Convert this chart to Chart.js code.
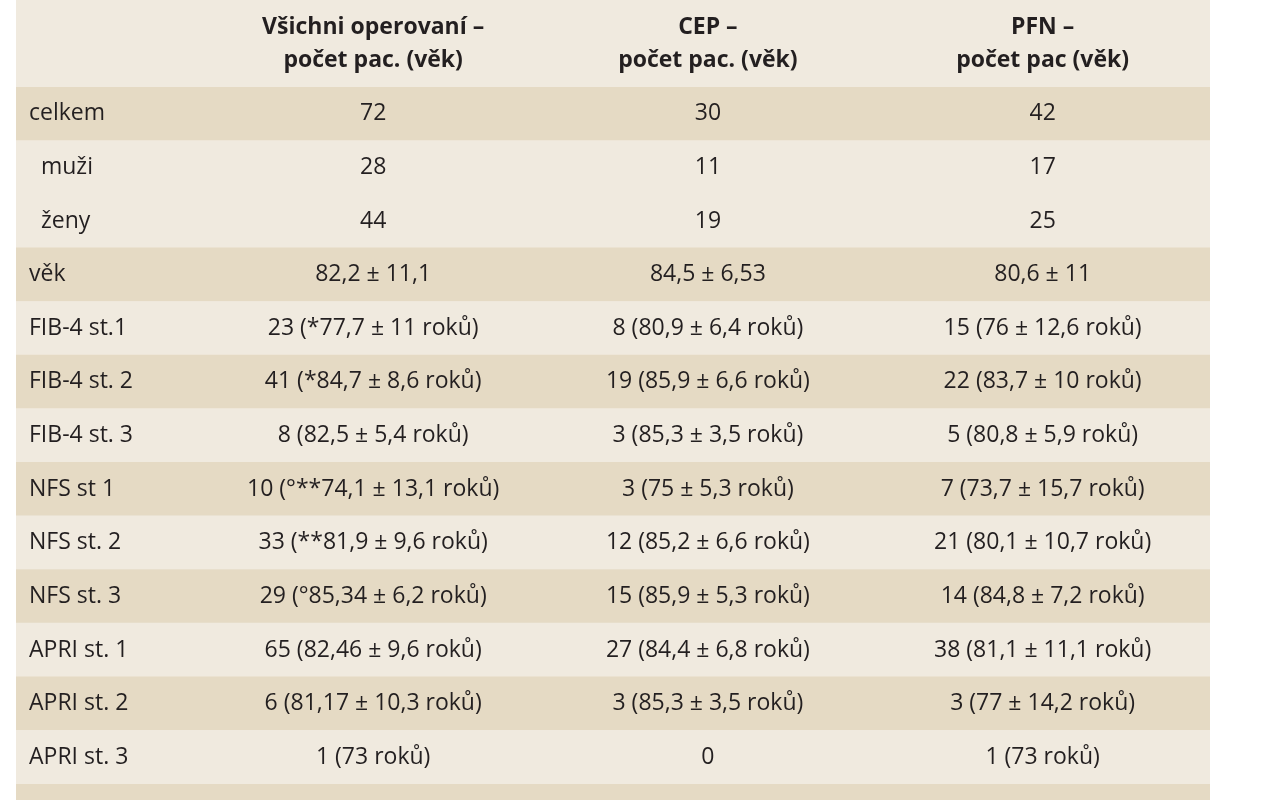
<!DOCTYPE html>
<html><head><meta charset="utf-8">
<script src="https://cdn.jsdelivr.net/npm/chart.js@4/dist/chart.umd.min.js"></script>
<style>html,body{margin:0;padding:0;background:#fff}#w{width:1278px;height:800px}</style>
</head><body><div id="w"><canvas id="c"></canvas></div>
<script>
const headers = [["Všichni operovaní –","počet pac. (věk)"],["CEP –","počet pac. (věk)"],["PFN –","počet pac (věk)"]];
const rowLabels = ["celkem","  muži","  ženy","věk","FIB-4 st.1","FIB-4 st. 2","FIB-4 st. 3","NFS st 1","NFS st. 2","NFS st. 3","APRI st. 1","APRI st. 2","APRI st. 3"];
const colAll = ["72","28","44","82,2 ± 11,1","23 (*77,7 ± 11 roků)","41 (*84,7 ± 8,6 roků)","8 (82,5 ± 5,4 roků)","10 (°**74,1 ± 13,1 roků)","33 (**81,9 ± 9,6 roků)","29 (°85,34 ± 6,2 roků)","65 (82,46 ± 9,6 roků)","6 (81,17 ± 10,3 roků)","1 (73 roků)"];
const colCEP = ["30","11","19","84,5 ± 6,53","8 (80,9 ± 6,4 roků)","19 (85,9 ± 6,6 roků)","3 (85,3 ± 3,5 roků)","3 (75 ± 5,3 roků)","12 (85,2 ± 6,6 roků)","15 (85,9 ± 5,3 roků)","27 (84,4 ± 6,8 roků)","3 (85,3 ± 3,5 roků)","0"];
const colPFN = ["42","17","25","80,6 ± 11","15 (76 ± 12,6 roků)","22 (83,7 ± 10 roků)","5 (80,8 ± 5,9 roků)","7 (73,7 ± 15,7 roků)","21 (80,1 ± 10,7 roků)","14 (84,8 ± 7,2 roků)","38 (81,1 ± 11,1 roků)","3 (77 ± 14,2 roků)","1 (73 roků)"];
const darkRows = [0,3,5,7,9,11];
const DARK="#e5dac4", LIGHT="#f0eadf", TXT="#231f20";
const cols=[colAll,colCEP,colPFN];
const FONT='"Open Sans", "Noto Sans", sans-serif';
const tablePlugin={id:'tbl',
 beforeDatasetsDraw(ch){const {ctx,chartArea:a}=ch;
  ctx.save();ctx.fillStyle=LIGHT;ctx.fillRect(a.left,0,a.right-a.left,a.top);
  ctx.fillStyle=DARK;ctx.fillRect(a.left,a.bottom,a.right-a.left,ch.height-a.bottom);ctx.restore();},
 afterDatasetsDraw(ch){const {ctx,chartArea:a,scales:{x,y}}=ch;
  ctx.save();ctx.fillStyle=TXT;ctx.textBaseline='middle';
  ctx.font='bold 23px '+FONT;ctx.textAlign='center';
  headers.forEach((h,i)=>{const cx=x.getPixelForValue(i+0.5);ctx.fillText(h[0],cx,a.top-60);ctx.fillText(h[1],cx,a.top-27);});
  ctx.font='23px '+FONT;
  rowLabels.forEach((l,r)=>{const cy=y.getPixelForValue(r);
   ctx.textAlign='left';ctx.fillText(l,x.getPixelForValue(x.min)+13,cy);
   ctx.textAlign='center';cols.forEach((c,i)=>ctx.fillText(c[r],x.getPixelForValue(i+0.5),cy));});
  ctx.restore();}};
new Chart(document.getElementById('c'),{type:'bar',
 data:{labels:rowLabels,datasets:[{data:rowLabels.map(()=>[-0.567,3]),
  backgroundColor:rowLabels.map((_,i)=>darkRows.includes(i)?DARK:LIGHT),
  barPercentage:1,categoryPercentage:1,borderWidth:0}]},
 options:{indexAxis:'y',responsive:true,maintainAspectRatio:false,animation:false,
  layout:{padding:{left:16,right:68,top:87,bottom:16}},
  plugins:{legend:{display:false},tooltip:{enabled:false}},
  scales:{x:{display:false,min:-0.567,max:3},y:{display:false}}},
 plugins:[tablePlugin]});
</script></body></html>
